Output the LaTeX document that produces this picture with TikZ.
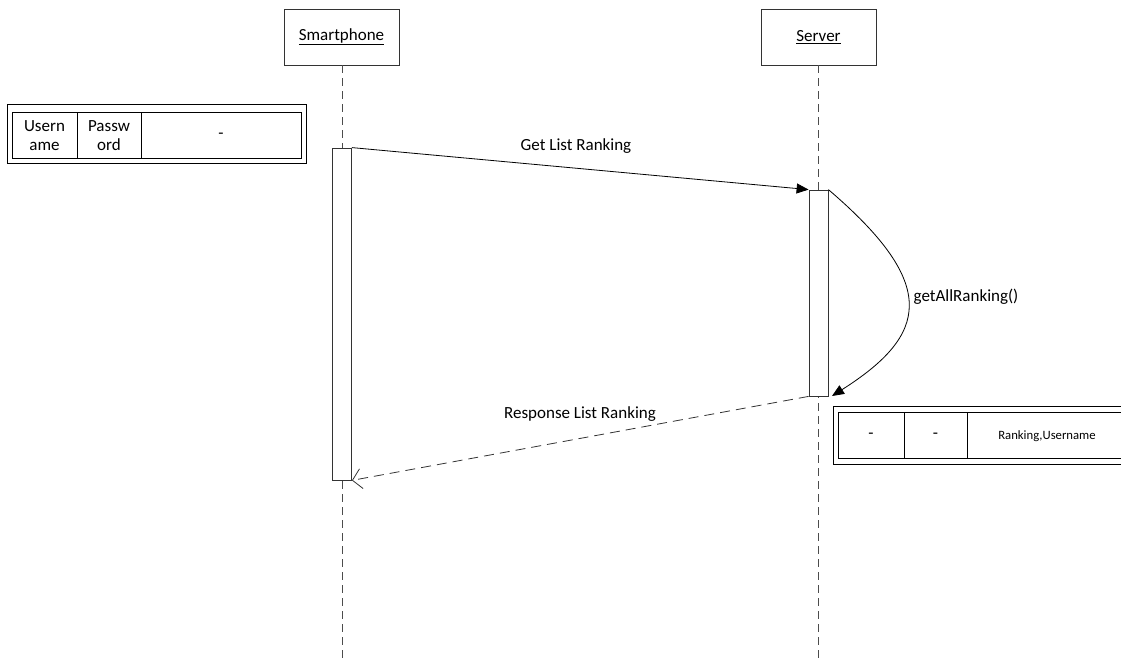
\documentclass[tikz,border=0pt]{standalone}
\usepackage{fontspec}
\setmainfont{Carlito}
\usetikzlibrary{arrows.meta}
\begin{document}
\begin{tikzpicture}[x=1pt,y=-1pt,
  every node/.style={font=\fontsize{17}{19}\selectfont},
  objbox/.style={draw=black!80,line width=0.8pt,fill=white,minimum width=115pt,minimum height=56pt,inner sep=0pt},
  lifeline/.style={draw=black!70,line width=0.9pt,dash pattern=on 8pt off 5pt},
  actbox/.style={draw=black!80,line width=0.8pt,fill=white,minimum width=19pt,inner sep=0pt},
  msg/.style={draw=black,line width=0.8pt},
  ret/.style={draw=black!80,line width=0.8pt,dash pattern=on 10pt off 6pt},
  tbl/.style={draw=black,line width=1pt},
  cell/.style={font=\fontsize{17}{19}\selectfont,align=center,inner sep=0pt},
  smallcell/.style={font=\fontsize{12.7}{15}\selectfont,align=center,inner sep=0pt},
  lbl/.style={inner sep=1pt}]
\useasboundingbox (0,0) rectangle (1121,660);
\begin{scope}
\clip (0,0) rectangle (1121,660);
% objects
\node[objbox] (sp) at (341.5,37) {\underline{Smartphone}};
\node[objbox] (sv) at (818.5,37) {\underline{Server}};
\coordinate (spEnd) at (342,660);
\coordinate (svEnd) at (818,660);
\draw[lifeline] (sp.south -| spEnd) -- (spEnd);
\draw[lifeline] (sv.south -| svEnd) -- (svEnd);
% activations
\node[actbox,minimum height=332pt] (spAct) at (342,314) {};
\node[actbox,minimum height=206pt] (svAct) at (818.5,293) {};
% messages
\draw[msg,-{Triangle[length=12pt,width=10pt]}] (spAct.north east) -- (svAct.north west);
\node[lbl] (m1) at (576,146) {Get List Ranking};
\coordinate (selfEnd) at (832,396);
\draw[msg,-{Triangle[length=12pt,width=10pt]}] (svAct.north east) .. controls (940,285) and (928,335) .. (selfEnd);
\node[lbl] (m2) at (966,297) {getAllRanking()};
\draw[ret,-{Straight Barb[length=9pt,width=20pt,line width=0.8pt]}] (svAct.south west) -- (spAct.south east);
\node[lbl] (m3) at (580,414) {Response List Ranking};
% left table
\draw[tbl] (7,105) rectangle (306,164);
\draw[tbl] (12,113) rectangle (301,159);
\draw[tbl] (77,113) -- (77,159);
\draw[tbl] (141,113) -- (141,159);
\node[cell] (c1) at (44.5,136) {Usern\\ame};
\node[cell] (c2) at (109,136) {Passw\\ord};
\node[cell] (c3) at (221,136) {-};
% right table
\draw[tbl] (833,406) rectangle (1135,464);
\draw[tbl] (838,412) rectangle (1130,458);
\draw[tbl] (904,412) -- (904,458);
\draw[tbl] (967,412) -- (967,458);
\node[cell] (d1) at (871,436) {-};
\node[cell] (d2) at (935.5,436) {-};
\node[smallcell] (d3) at (1047,436) {Ranking,Username};
\end{scope}
\end{tikzpicture}
\end{document}
